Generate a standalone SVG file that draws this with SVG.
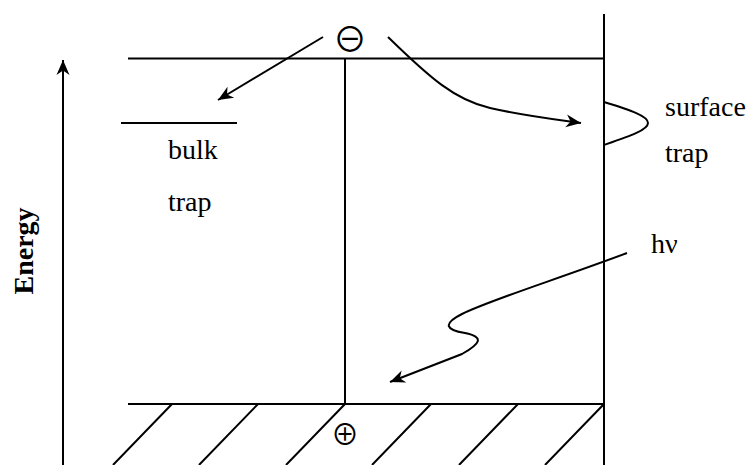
<svg xmlns="http://www.w3.org/2000/svg" width="751" height="465" viewBox="0 0 751 465">
<style>
.ln{stroke:#000;stroke-width:2;fill:none}
.t{font-family:"Liberation Serif","Times New Roman",serif;font-size:28px;fill:#000}
.sym{font-family:"Noto Sans CJK JP","DejaVu Sans",sans-serif;fill:#000}
</style>
<defs>
<marker id="ah" markerUnits="userSpaceOnUse" markerWidth="20" markerHeight="16" refX="0" refY="0" viewBox="-16 -8 18 16" orient="auto">
<path d="M0,0 L-15,-6.5 L-10.5,0 L-15,6.5 Z" fill="#000"/>
</marker>
</defs>
<rect width="751" height="465" fill="#fff"/>
<g id="band-diagram">
<line class="ln" x1="128" y1="58.5" x2="604" y2="58.5"/>
<line class="ln" x1="128" y1="404" x2="604" y2="404"/>
<line class="ln" x1="604" y1="14" x2="604" y2="465"/>
<line class="ln" x1="345" y1="58.5" x2="345" y2="404"/>
<path class="ln" d="M172,404 L113,465 M258,404 L199,465 M345,404 L286,465 M431,404 L372,465 M518,404 L459,465 M604,404 L545,465"/>
</g>
<g id="bulk-trap">
<line class="ln" x1="121" y1="123" x2="237" y2="123"/>
<text class="t" x="168" y="159">bulk</text>
<text class="t" x="168" y="211">trap</text>
</g>
<g id="surface-trap">
<path class="ln" d="M604,102 C630,110 648,116 648,123 C648,130 630,136 604,145"/>
<text class="t" x="665" y="116">surface</text>
<text class="t" x="665" y="162">trap</text>
</g>
<g id="electron">
<text class="sym" x="350" y="52" font-size="34" text-anchor="middle">⊖</text>
</g>
<g id="hole">
<text class="sym" x="345" y="445" font-size="28" text-anchor="middle">⊕</text>
</g>
<g id="photon">
<text class="t" x="651" y="253">hν</text>
</g>
<g id="energy-axis">
<line class="ln" x1="63" y1="465" x2="63" y2="60" marker-end="url(#ah)"/>
<text class="t" font-weight="bold" transform="translate(33,251) rotate(-90)" text-anchor="middle">Energy</text>
</g>
<g id="connectors">
<line class="ln" x1="323" y1="37" x2="218" y2="100" marker-end="url(#ah)"/>
<path class="ln" d="M388,37 C430,78 455,100 490,108 S560,120 581,123" marker-end="url(#ah)"/>
<path class="ln" d="M627,253 C555,280 490,300 462,314 C442,324 446,330 465,333 C485,337 480,344 462,354 L390,382" marker-end="url(#ah)"/>
</g>
</svg>
